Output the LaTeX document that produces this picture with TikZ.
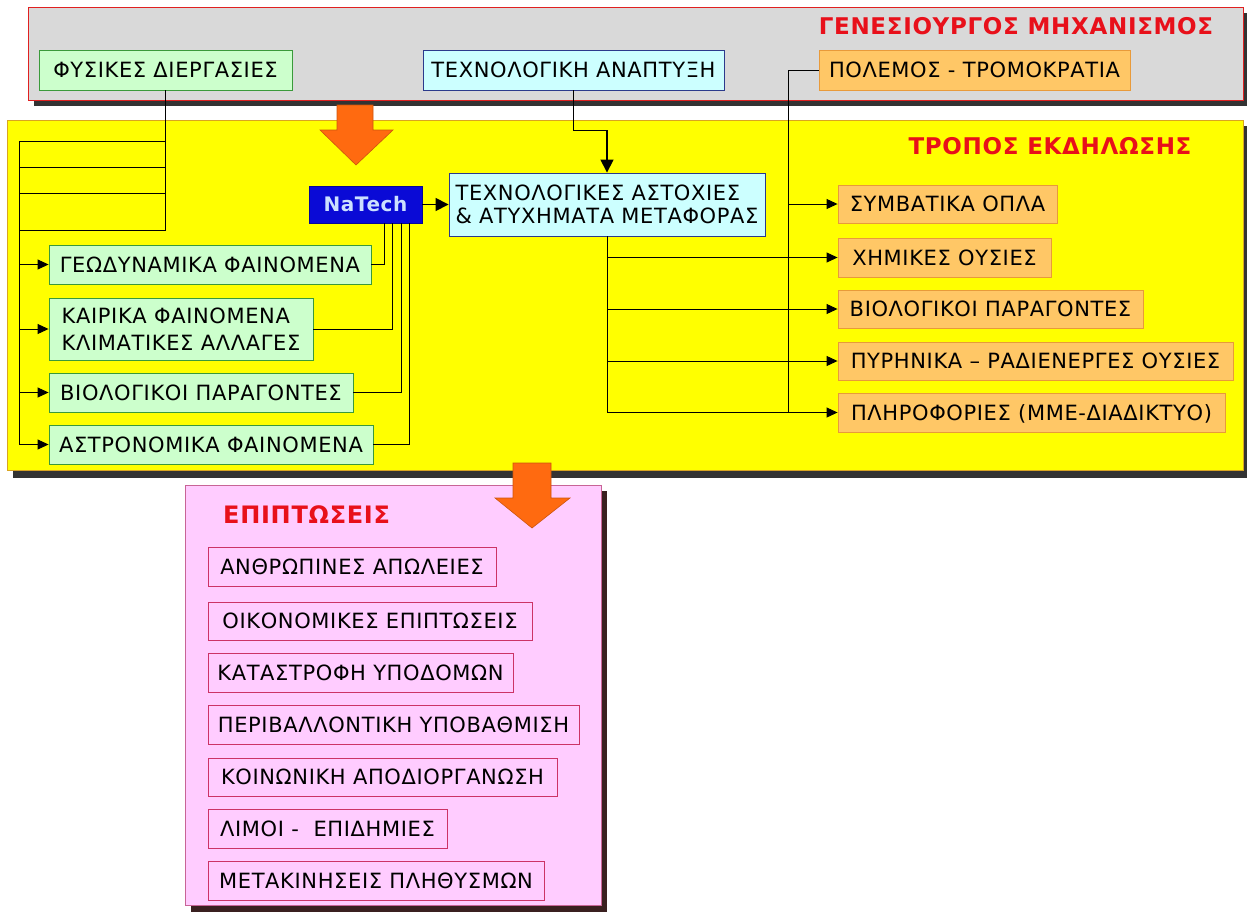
\documentclass[tikz,border=0pt]{standalone}
\usepackage{fontspec}
\setmainfont{DejaVu Sans}[LetterSpace=3]
\usetikzlibrary{arrows.meta}
\definecolor{gfill}{HTML}{CCFFCC}
\definecolor{gline}{HTML}{3A9A3A}
\definecolor{cfill}{HTML}{CCFFFF}
\definecolor{cline}{HTML}{2B3A8C}
\definecolor{ofill}{HTML}{FFC766}
\definecolor{oline}{HTML}{E89A3A}
\definecolor{pfill}{HTML}{FFCCFF}
\definecolor{pline}{HTML}{CC3366}
\definecolor{pframe}{HTML}{C86496}
\definecolor{tred}{HTML}{E8101A}
\definecolor{grayfill}{HTML}{D9D9D9}
\definecolor{grayline}{HTML}{E02020}
\definecolor{yel}{HTML}{FFFF00}
\definecolor{yline}{HTML}{D9A520}
\definecolor{shad}{HTML}{333333}
\definecolor{pshad}{HTML}{3A2020}
\definecolor{natblue}{HTML}{0A0AD6}
\definecolor{nattext}{HTML}{CCE0FF}
\definecolor{aro}{HTML}{FF6A10}
\tikzset{
  base/.style={draw, rectangle, inner sep=0pt, font=\fontsize{21}{23}\selectfont, line width=0.9pt},
  one/.style={text height=15.3pt, text depth=0pt},
  gbox/.style={base, fill=gfill, draw=gline},
  cbox/.style={base, fill=cfill, draw=cline},
  obox/.style={base, fill=ofill, draw=oline},
  pbox/.style={base, one, fill=pfill, draw=pline},
  conn/.style={line width=1pt, black},
  arr/.style={conn, -{Triangle[length=11pt,width=10pt]}},
  arrB/.style={line width=1.6pt, black, -{Triangle[length=13pt,width=13pt]}},
  ttl/.style={font=\bfseries\fontsize{23}{26}\selectfont, text=tred, inner sep=0pt},
  bigarrow/.style={fill=aro, draw=aro!80!black, line width=0.6pt},
}
\begin{document}
\begin{tikzpicture}[x=1pt,y=-1pt]
\useasboundingbox (0,0) rectangle (1247,911);
\fill[white] (0,0) rectangle (1247,911);
\begin{scope}
\clip (0,0) rectangle (1247,911);
% panels
\fill[shad] (34,13) rectangle (1249,106);
\draw[grayline, fill=grayfill, line width=1pt] (28,7) rectangle (1243,100);
\fill[shad] (13,126) rectangle (1249,478);
\draw[yline, fill=yel, line width=1pt] (7,120) rectangle (1243,470);
\fill[pshad] (191,491) rectangle (607,915);
\draw[pframe, fill=pfill, line width=1pt] (185,485) rectangle (601,905);
\end{scope}

% titles
\node[ttl] (t1) at (1016,26) {ΓΕΝΕΣΙΟΥΡΓΟΣ ΜΗΧΑΝΙΣΜΟΣ};
\node[ttl] (t2) at (1050,146) {ΤΡΟΠΟΣ ΕΚΔΗΛΩΣΗΣ};
\node[ttl, anchor=west, font=\bfseries\fontsize{24}{26}\selectfont] (t3) at (223,515) {ΕΠΙΠΤΩΣΕΙΣ};

% top row
\node[gbox, one, minimum width=253, minimum height=40] (fys) at (165.5,70) {ΦΥΣΙΚΕΣ ΔΙΕΡΓΑΣΙΕΣ};
\node[cbox, one, minimum width=301, minimum height=40] (anap) at (573.5,70) {ΤΕΧΝΟΛΟΓΙΚΗ ΑΝΑΠΤΥΞΗ};
\node[obox, one, minimum width=311, minimum height=40] (pol) at (974.5,70) {ΠΟΛΕΜΟΣ - ΤΡΟΜΟΚΡΑΤΙΑ};

% middle
\node[fill=natblue, draw=natblue!70!black, line width=0.8pt, minimum width=113, minimum height=37, text=nattext, font=\bfseries\fontsize{20}{22}\selectfont, inner sep=0pt] (nat) at (365.5,204.5) {NaTech};
\node[cbox, minimum width=316, minimum height=63, align=left, font=\fontsize{21}{23}\selectfont] (tas) at (607,204.5) {ΤΕΧΝΟΛΟΓΙΚΕΣ ΑΣΤΟΧΙΕΣ\\\& ΑΤΥΧΗΜΑΤΑ ΜΕΤΑΦΟΡΑΣ};

\node[gbox, one, minimum width=322, minimum height=39] (geo) at (210,264.5) {ΓΕΩΔΥΝΑΜΙΚΑ ΦΑΙΝΟΜΕΝΑ};
\node[gbox, minimum width=264, minimum height=62, align=left, font=\fontsize{21}{27}\selectfont] (kai) at (181,329) {ΚΑΙΡΙΚΑ ΦΑΙΝΟΜΕΝΑ\\ΚΛΙΜΑΤΙΚΕΣ ΑΛΛΑΓΕΣ};
\node[gbox, one, minimum width=304, minimum height=39] (bio) at (201,392.5) {ΒΙΟΛΟΓΙΚΟΙ ΠΑΡΑΓΟΝΤΕΣ};
\node[gbox, one, minimum width=324, minimum height=39] (ast) at (211,444.5) {ΑΣΤΡΟΝΟΜΙΚΑ ΦΑΙΝΟΜΕΝΑ};

\node[obox, one, minimum width=219, minimum height=38] (sym) at (947.5,204) {ΣΥΜΒΑΤΙΚΑ ΟΠΛΑ};
\node[obox, one, minimum width=213, minimum height=39] (chem) at (944.5,257.5) {ΧΗΜΙΚΕΣ ΟΥΣΙΕΣ};
\node[obox, one, minimum width=305, minimum height=38] (bioo) at (990.5,309) {ΒΙΟΛΟΓΙΚΟΙ ΠΑΡΑΓΟΝΤΕΣ};
\node[obox, one, minimum width=395, minimum height=38] (pyr) at (1035.5,361) {ΠΥΡΗΝΙΚΑ – ΡΑΔΙΕΝΕΡΓΕΣ ΟΥΣΙΕΣ};
\node[obox, one, minimum width=387, minimum height=39] (pli) at (1031.5,412.5) {ΠΛΗΡΟΦΟΡΙΕΣ (ΜΜΕ-ΔΙΑΔΙΚΤΥΟ)};

% bottom items
\node[pbox, minimum width=288, minimum height=39] (p1) at (352,566.5) {ΑΝΘΡΩΠΙΝΕΣ ΑΠΩΛΕΙΕΣ};
\node[pbox, minimum width=324, minimum height=38] (p2) at (370,621) {ΟΙΚΟΝΟΜΙΚΕΣ ΕΠΙΠΤΩΣΕΙΣ};
\node[pbox, minimum width=305, minimum height=39] (p3) at (360.5,672.5) {ΚΑΤΑΣΤΡΟΦΗ ΥΠΟΔΟΜΩΝ};
\node[pbox, minimum width=371, minimum height=39] (p4) at (393.5,724.5) {ΠΕΡΙΒΑΛΛΟΝΤΙΚΗ ΥΠΟΒΑΘΜΙΣΗ};
\node[pbox, minimum width=349, minimum height=38] (p5) at (382.5,777) {ΚΟΙΝΩΝΙΚΗ ΑΠΟΔΙΟΡΓΑΝΩΣΗ};
\node[pbox, minimum width=239, minimum height=39] (p6) at (327.5,828.5) {ΛΙΜΟΙ -\ \ ΕΠΙΔΗΜΙΕΣ};
\node[pbox, minimum width=336, minimum height=39] (p7) at (376,880.5) {ΜΕΤΑΚΙΝΗΣΕΙΣ ΠΛΗΘΥΣΜΩΝ};

% left bus
\coordinate (g1) at (19,141);
\coordinate (g2) at (19,167);
\coordinate (g3) at (19,193);
\coordinate (g4) at (19,230);
\draw[conn] (fys.south) |- (g4);
\draw[conn] (g1) -- (g1 -| fys.south);
\draw[conn] (g2) -- (g2 -| fys.south);
\draw[conn] (g3) -- (g3 -| fys.south);
\draw[arr] (g1) |- (ast.west);
\draw[arr] (geo.west -| g1) -- (geo.west);
\draw[arr] (kai.west -| g1) -- (kai.west);
\draw[arr] (bio.west -| g1) -- (bio.west);

% NaTech links
\draw[conn] ([xshift=18.5pt]nat.south) |- (geo.east);
\draw[conn] ([xshift=26.5pt]nat.south) |- (kai.east);
\draw[conn] ([xshift=35.5pt]nat.south) |- (bio.east);
\draw[conn] ([xshift=43.5pt]nat.south) |- (ast.east);
\draw[arrB] (nat.east) -- (tas.west);

% technology
\draw[arrB] (anap.south) -- ++(0,40) -| (tas.north);

% war
\coordinate (pk) at (788,412.5);
\draw[conn] (pol.west) -| (pk);
\draw[arr] (sym.west -| pk) -- (sym.west);

% failures
\draw[conn] (tas.south) -- (tas.south |- pli.west);
\draw[arr] (tas.south |- chem.west) -- (chem.west);
\draw[arr] (tas.south |- bioo.west) -- (bioo.west);
\draw[arr] (tas.south |- pyr.west) -- (pyr.west);
\draw[arr] (tas.south |- pli.west) -- (pli.west);

% big orange arrows
\draw[bigarrow] (337,105) -- (373,105) -- (373,130) -- (393,130) -- (356,165) -- (320,130) -- (337,130) -- cycle;
\draw[bigarrow] (513,463) -- (551,463) -- (551,498) -- (570,498) -- (532,528) -- (495,498) -- (513,498) -- cycle;
\end{tikzpicture}
\end{document}
